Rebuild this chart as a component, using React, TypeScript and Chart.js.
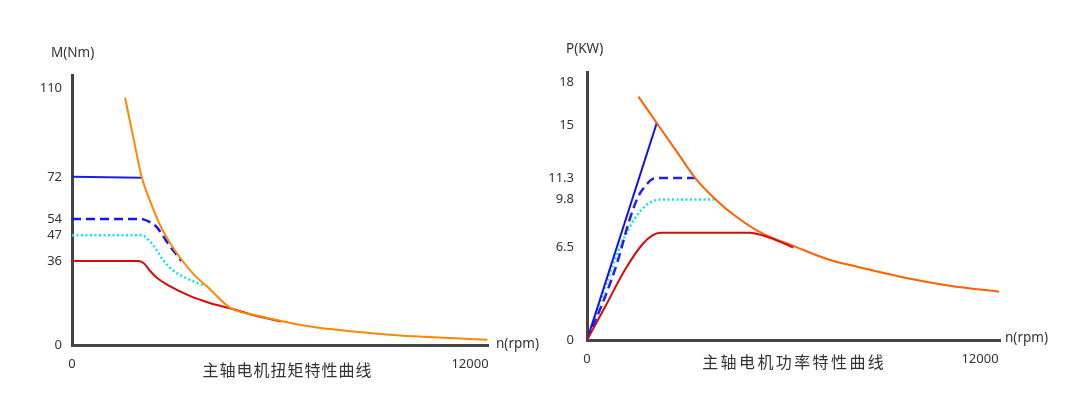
import React, { useEffect, useRef } from "react";
import { Chart, registerables } from "chart.js";

Chart.register(...registerables);

// ---------- shared ----------
const speedTicks = [0, 12000];

// ---------- torque chart (left) ----------
const torqueTicks = [0, 36, 47, 54, 72, 110];
const tqOrangeN = [1600, 1850, 2100, 2350, 2650, 2950, 3300, 3700, 4150, 4760, 5570, 6270, 7080, 7780, 8380, 9890, 11400, 12520];
const tqOrangeM = [105.9, 88.8, 72, 61.8, 51.5, 43.8, 36.6, 29.8, 24.0, 16.0, 12.6, 10.4, 8.1, 6.8, 5.9, 4.1, 3.0, 2.2];
const tqBlueN = [0, 2100];
const tqBlueM = [72, 71.6];
const tqDashN = [0, 2000, 2150, 2350, 2550, 2750, 2950, 3100, 3300];
const tqDashM = [54, 54, 53.8, 52.6, 50.6, 46.6, 42.4, 39.6, 36.0];
const tqCyanN = [0, 2000, 2150, 2350, 2550, 2750, 3050, 3450, 3950];
const tqCyanM = [47, 47, 46.8, 44.4, 40.7, 36.3, 31.9, 28.6, 25.6];
const tqRedN = [0, 2000, 2100, 2200, 2350, 2550, 2950, 3550, 4150, 4760, 5570, 6300];
const tqRedM = [36, 36, 35.6, 34.5, 31.8, 28.9, 25.2, 21.0, 18.0, 15.7, 12.4, 10.1];

// ---------- power chart (right) ----------
const powerTicks = [0, 6.5, 9.8, 11.3, 15, 18];
const pwOrangeN = [1570, 2130, 2840, 3300, 3960, 4570, 5380, 6300, 7420, 8030, 9560, 11080, 12580];
const pwOrangeP = [16.98, 15.14, 12.81, 11.32, 9.74, 8.58, 7.4, 6.57, 5.58, 5.23, 4.42, 3.79, 3.37];
const pwBlueN = [0, 2130];
const pwBlueP = [0, 15.14];
const pwDashN = [0, 550, 950, 1260, 1560, 1800, 1975, 2150, 3300];
const pwDashP = [0, 3.0, 5.6, 8.1, 10.0, 10.8, 11.2, 11.3, 11.3];
const pwCyanN = [0, 450, 850, 1260, 1670, 1975, 2300, 3950];
const pwCyanP = [0, 3.0, 5.6, 7.7, 9.1, 9.65, 9.8, 9.8];
const pwRedN = [0, 550, 1160, 1700, 2000, 2250, 4950, 5200, 5500, 5900, 6300];
const pwRedP = [0, 2.3, 4.9, 6.7, 7.3, 7.48, 7.48, 7.4, 7.2, 6.85, 6.45];

const torqueTitle = "主轴电机扭矩特性曲线";
const powerTitle = "主轴电机功率特性曲线";

const NUM_FONT = '"Noto Sans", "DejaVu Sans", sans-serif';
const CJK_FONT = '"Noto Sans CJK SC", "Noto Sans", sans-serif';
const TEXT = "#333333";
const AXIS = "#444444";

const pts = (xs: number[], ys: number[]) => xs.map((x, i) => ({ x, y: ys[i] }));

type TextItem = { text: string; x: number; y: number; font: string; align: "left" | "center"; spacing?: number };

const textPlugin = (items: TextItem[]) => ({
  id: "extraTexts",
  afterDraw(chart: any) {
    const ctx = chart.ctx as CanvasRenderingContext2D;
    ctx.save();
    ctx.fillStyle = TEXT;
    ctx.textBaseline = "middle";
    for (const t of items) {
      ctx.font = t.font;
      if (t.spacing) {
        const chars = Array.from(t.text);
        const widths = chars.map((c) => ctx.measureText(c).width);
        const total = widths.reduce((a, b) => a + b, 0) + t.spacing * (chars.length - 1);
        let x = t.align === "center" ? t.x - total / 2 : t.x;
        ctx.textAlign = "left";
        chars.forEach((c, i) => {
          ctx.fillText(c, x, t.y);
          x += widths[i] + t.spacing!;
        });
      } else {
        ctx.textAlign = t.align;
        ctx.fillText(t.text, t.x, t.y);
      }
    }
    ctx.restore();
  },
});

const line = (data: any[], color: string, width: number, dash: number[] = []) => ({
  data,
  borderColor: color,
  backgroundColor: color,
  borderWidth: width,
  borderDash: dash,
  pointRadius: 0,
  fill: false,
  cubicInterpolationMode: "monotone" as const,
});

function buildConfig(opts: {
  datasets: any[];
  yTicks: number[];
  yMax: number;
  xMax: number;
  yWidth: number;
  yPad: number;
  padding: { left: number; right: number; top: number; bottom: number };
  texts: TextItem[];
}) {
  return {
    type: "line" as const,
    data: { datasets: opts.datasets },
    options: {
      animation: false as const,
      responsive: false,
      maintainAspectRatio: false,
      layout: { padding: opts.padding },
      plugins: { legend: { display: false }, tooltip: { enabled: false }, title: { display: false } },
      scales: {
        x: {
          type: "linear" as const,
          min: 0,
          max: opts.xMax,
          grid: { display: false, drawTicks: false },
          border: { display: true, color: AXIS, width: 3 },
          afterBuildTicks: (s: any) => {
            s.ticks = speedTicks.map((v) => ({ value: v }));
          },
          afterFit: (s: any) => {
            s.height = 30;
            s.paddingLeft = 0;
            s.paddingRight = 0;
          },
          ticks: {
            autoSkip: false,
            maxRotation: 0,
            padding: 11,
            color: TEXT,
            font: { family: NUM_FONT, size: 13 },
            callback: (v: any) => String(v),
          },
        },
        y: {
          type: "linear" as const,
          min: 0,
          max: opts.yMax,
          grid: { display: false, drawTicks: false },
          border: { display: true, color: AXIS, width: 3 },
          afterBuildTicks: (s: any) => {
            s.ticks = opts.yTicks.map((v) => ({ value: v }));
          },
          afterFit: (s: any) => {
            s.width = opts.yWidth;
            s.paddingTop = 0;
            s.paddingBottom = 0;
          },
          ticks: {
            autoSkip: false,
            padding: opts.yPad,
            color: TEXT,
            font: { family: NUM_FONT, size: 13 },
            callback: (v: any) => String(v),
          },
        },
      },
    },
    plugins: [textPlugin(opts.texts)],
  };
}

export default function App() {
  const leftRef = useRef<HTMLCanvasElement>(null);
  const rightRef = useRef<HTMLCanvasElement>(null);

  useEffect(() => {
    const leftCfg = buildConfig({
      datasets: [
        line(pts(tqOrangeN, tqOrangeM), "#FF8800", 2),
        line(pts(tqBlueN, tqBlueM), "#1C1CEE", 2),
        line(pts(tqDashN, tqDashM), "#1414F5", 2.5, [9, 5]),
        line(pts(tqCyanN, tqCyanM), "#10E4F2", 2.5, [2, 2.5]),
        line(pts(tqRedN, tqRedM), "#D80A0A", 2),
      ],
      yTicks: torqueTicks,
      yMax: 115.6,
      xMax: 12542,
      yWidth: 72,
      yPad: 10,
      padding: { left: 0, right: 52, top: 75, bottom: 19 },
      texts: [
        { text: "M(Nm)", x: 51, y: 53, font: `13.5px ${NUM_FONT}`, align: "left" },
        { text: "n(rpm)", x: 496, y: 344, font: `13.5px ${NUM_FONT}`, align: "left" },
        { text: torqueTitle, x: 287, y: 370, font: `16px ${CJK_FONT}`, align: "center", spacing: 1 },
      ],
    });
    const rightCfg = buildConfig({
      datasets: [
        line(pts(pwRedN, pwRedP), "#DC0808", 2),
        line(pts(pwOrangeN, pwOrangeP), "#FF6000", 2),
        line(pts(pwBlueN, pwBlueP), "#1010F0", 2),
        line(pts(pwDashN, pwDashP), "#2020F5", 2.5, [9, 5]),
        line(pts(pwCyanN, pwCyanP), "#10E4F2", 2.5, [2, 2.5]),
      ],
      yTicks: powerTicks,
      yMax: 18.7,
      xMax: 12611,
      yWidth: 47,
      yPad: 13,
      padding: { left: 0, right: 80, top: 72, bottom: 24 },
      texts: [
        { text: "P(KW)", x: 26, y: 49, font: `13.5px ${NUM_FONT}`, align: "left" },
        { text: "n(rpm)", x: 465, y: 338, font: `13.5px ${NUM_FONT}`, align: "left" },
        { text: powerTitle, x: 253, y: 362, font: `16px ${CJK_FONT}`, align: "center", spacing: 2.4 },
      ],
    });
    const c1 = new Chart(leftRef.current!, leftCfg as any);
    const c2 = new Chart(rightRef.current!, rightCfg as any);
    return () => {
      c1.destroy();
      c2.destroy();
    };
  }, []);

  return (
    <div style={{ position: "fixed", left: 0, top: 0, width: 1080, height: 394, background: "#fff", overflow: "hidden" }}>
      <canvas ref={leftRef} width={540} height={394} style={{ position: "absolute", left: 0, top: 0, width: 540, height: 394 }} />
      <canvas ref={rightRef} width={540} height={394} style={{ position: "absolute", left: 540, top: 0, width: 540, height: 394 }} />
    </div>
  );
}
